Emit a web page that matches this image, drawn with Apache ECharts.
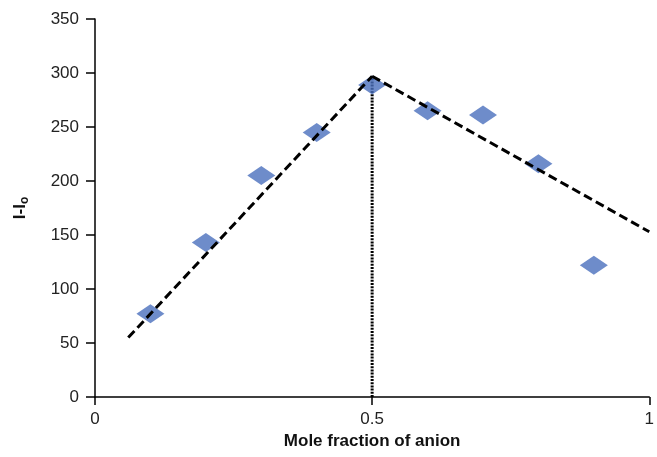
<!DOCTYPE html>
<html>
<head>
<meta charset="utf-8">
<script src="https://cdn.jsdelivr.net/npm/echarts@6/dist/echarts.min.js"></script>
<style>
  html, body { margin: 0; padding: 0; background: #fff; }
  #chart { width: 657px; height: 457px; }
</style>
</head>
<body>
<div id="chart"></div>
<script>
// Job's plot: emission change versus mole fraction of anion
const moleFraction = [0.1, 0.2, 0.3, 0.4, 0.5, 0.6, 0.7, 0.8, 0.9];
const intensity = [77, 143, 205, 245, 289, 265, 261, 216, 122];

// Fitted trend lines meeting at the stoichiometric point
const risingFitX = [0.06, 0.5];
const risingFitY = [55, 297];
const fallingFitX = [0.5, 1.0];
const fallingFitY = [297, 153];
const markerX = [0.5, 0.5];
const markerY = [0, 297];

const zip = (xs, ys) => xs.map((x, i) => [x, ys[i]]);

const chart = echarts.init(document.getElementById('chart'));
const font = 'Liberation Sans, Arial, Helvetica, sans-serif';

chart.setOption({
  animation: false,
  backgroundColor: '#ffffff',
  grid: { left: 95, right: 2, top: 19, bottom: 60, containLabel: false },
  xAxis: {
    type: 'value',
    min: 0,
    max: 1,
    interval: 0.5,
    name: 'Mole fraction of anion',
    nameLocation: 'middle',
    nameGap: 36,
    nameTextStyle: { fontFamily: font, fontSize: 17, fontWeight: 'bold', color: '#111' },
    axisLine: { lineStyle: { color: '#000', width: 1.5 } },
    axisTick: { show: true, length: 8, lineStyle: { color: '#000', width: 1.5 } },
    axisLabel: { fontFamily: font, fontSize: 17, color: '#222', margin: 14 },
    splitLine: { show: false }
  },
  yAxis: {
    type: 'value',
    min: 0,
    max: 350,
    interval: 50,
    name: '{a|I-I}{b|o}',
    nameLocation: 'middle',
    nameGap: 64,
    nameRotate: 90,
    nameTextStyle: {
      rich: {
        a: { fontFamily: font, fontSize: 17, fontWeight: 'bold', color: '#111' },
        b: { fontFamily: font, fontSize: 12, fontWeight: 'bold', color: '#111', padding: [10, 0, 0, 0] }
      }
    },
    axisLine: { show: true, lineStyle: { color: '#000', width: 1.5 } },
    axisTick: { show: true, length: 9, lineStyle: { color: '#000', width: 1.5 } },
    axisLabel: { fontFamily: font, fontSize: 17, color: '#222', margin: 16 },
    splitLine: { show: false }
  },
  series: [
    {
      type: 'line',
      data: zip(markerX, markerY),
      symbol: 'none',
      lineStyle: { color: '#000', width: 3, type: [2, 1.2] },
      z: 2
    },
    {
      type: 'line',
      data: zip(risingFitX, risingFitY),
      symbol: 'none',
      lineStyle: { color: '#000', width: 3, type: [9, 4.5] },
      z: 4
    },
    {
      type: 'line',
      data: zip(fallingFitX, fallingFitY),
      symbol: 'none',
      lineStyle: { color: '#000', width: 3, type: [9, 4.5] },
      z: 4
    },
    {
      type: 'scatter',
      data: zip(moleFraction, intensity),
      symbol: 'diamond',
      symbolSize: [28, 19],
      itemStyle: { color: '#4a6fbd' },
      z: 3
    }
  ]
});
</script>
</body>
</html>
